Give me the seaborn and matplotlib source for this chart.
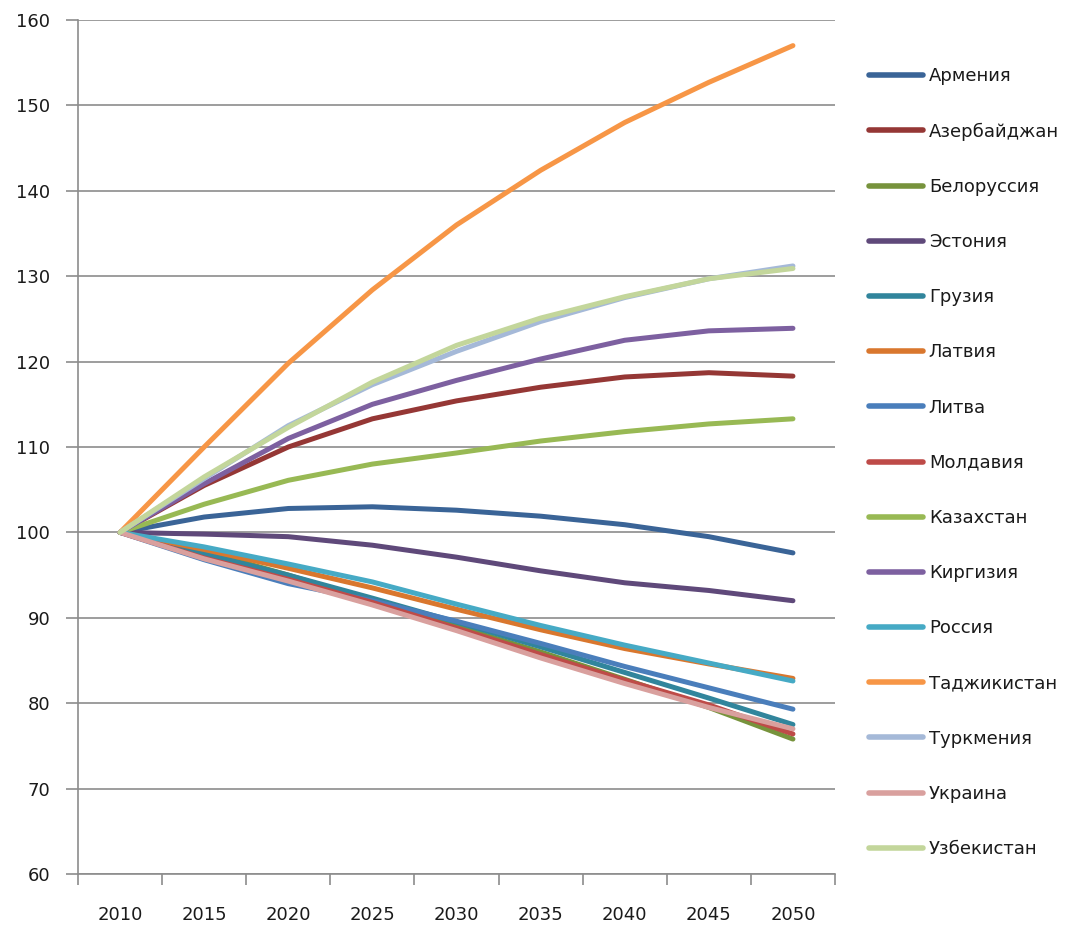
import matplotlib
matplotlib.use("Agg")
import matplotlib.pyplot as plt
import seaborn as sns
import pandas as pd
from matplotlib.ticker import FixedLocator

years = ["2010", "2015", "2020", "2025", "2030", "2035", "2040", "2045", "2050"]

countries = ["Армения", "Азербайджан", "Белоруссия", "Эстония", "Грузия", "Латвия",
             "Литва", "Молдавия", "Казахстан", "Киргизия", "Россия", "Таджикистан",
             "Туркмения", "Украина", "Узбекистан"]

armenia     = [100, 101.8, 102.8, 103.0, 102.6, 101.9, 100.9, 99.5, 97.6]
azerbaijan  = [100, 105.5, 110.0, 113.3, 115.4, 117.0, 118.2, 118.7, 118.3]
belarus     = [100, 97.8, 95.0, 92.0, 89.0, 86.0, 82.8, 79.5, 75.8]
estonia     = [100, 99.8, 99.5, 98.5, 97.1, 95.5, 94.1, 93.2, 92.0]
georgia     = [100, 97.5, 95.0, 92.3, 89.5, 86.6, 83.6, 80.6, 77.5]
latvia      = [100, 98.0, 95.8, 93.5, 91.0, 88.6, 86.4, 84.6, 82.9]
lithuania   = [100, 96.8, 94.0, 92.0, 89.6, 87.0, 84.3, 81.8, 79.3]
moldova     = [100, 97.0, 94.5, 91.8, 88.8, 85.7, 82.7, 79.8, 76.4]
kazakhstan  = [100, 103.3, 106.1, 108.0, 109.3, 110.7, 111.8, 112.7, 113.3]
kyrgyzstan  = [100, 105.7, 111.0, 115.0, 117.8, 120.3, 122.5, 123.6, 123.9]
russia      = [100, 98.3, 96.3, 94.2, 91.6, 89.1, 86.8, 84.7, 82.6]
tajikistan  = [100, 110.0, 119.8, 128.4, 136.0, 142.4, 148.0, 152.7, 157.0]
turkmenia   = [100, 106.3, 112.5, 117.3, 121.2, 124.7, 127.5, 129.7, 131.2]
ukraine     = [100, 96.9, 94.3, 91.5, 88.5, 85.3, 82.3, 79.5, 77.0]
uzbekistan  = [100, 106.5, 112.3, 117.6, 121.9, 125.1, 127.6, 129.7, 130.9]

series = [armenia, azerbaijan, belarus, estonia, georgia, latvia, lithuania, moldova,
          kazakhstan, kyrgyzstan, russia, tajikistan, turkmenia, ukraine, uzbekistan]

colors = ["#3A6497", "#953735", "#77933C", "#5F497A", "#31859C", "#D9772E",
          "#4A7EBB", "#BE4B48", "#98B954", "#7D60A0", "#46AAC5", "#F79646",
          "#A5B9D8", "#D9A09E", "#C3D69B"]

rows = []
for name, vals in zip(countries, series):
    for i, v in enumerate(vals):
        rows.append({"pos": i, "year": years[i], "country": name, "value": v})
df = pd.DataFrame(rows)

sns.set_style("white")
plt.rcParams["font.family"] = ["DejaVu Sans"]

fig = plt.figure(figsize=(10.85, 9.26), dpi=100)
ax = fig.add_axes([78 / 1085, 52 / 926, (835 - 78) / 1085, (874 - 20) / 926])

sns.lineplot(data=df, x="pos", y="value", hue="country", hue_order=countries,
             palette=colors, linewidth=3.6, ax=ax, legend=True,
             solid_capstyle="round", solid_joinstyle="round")

ax.set_xlim(-0.5, 8.5)
ax.set_ylim(60, 160)
ax.set_yticks(range(60, 161, 10))
ax.yaxis.grid(True, color="#8C8C8C", linewidth=1.2)
ax.set_axisbelow(True)
ax.set_xlabel("")
ax.set_ylabel("")

ax.set_xticks(range(len(years)))
ax.set_xticklabels(years)
ax.xaxis.set_minor_locator(FixedLocator([i - 0.5 for i in range(len(years) + 1)]))
ax.tick_params(axis="x", which="major", length=0, pad=23, labelsize=13, labelcolor="#1a1a1a")
ax.tick_params(axis="x", which="minor", length=8, width=1.2, color="#8C8C8C", direction="out")
ax.tick_params(axis="y", which="major", length=9, width=1.2, color="#8C8C8C", direction="out",
               pad=11, labelsize=13, labelcolor="#1a1a1a")
ax.tick_params(left=True, bottom=True, which="both")

for side in ["top", "right"]:
    ax.spines[side].set_visible(False)
for side in ["left", "bottom"]:
    ax.spines[side].set_color("#8C8C8C")
    ax.spines[side].set_linewidth(1.2)

handles, labels = ax.get_legend_handles_labels()
ax.legend_.remove()
leg = fig.legend(handles, labels, loc="upper left", bbox_to_anchor=(862 / 1085, 1 - 60 / 926),
                 frameon=False, fontsize=13, handlelength=3.0, handletextpad=0.3,
                 labelspacing=2.06, borderaxespad=0)
for line in leg.get_lines():
    line.set_linewidth(4)
for t in leg.get_texts():
    t.set_color("#1a1a1a")

fig.savefig("out.png", dpi=100)
